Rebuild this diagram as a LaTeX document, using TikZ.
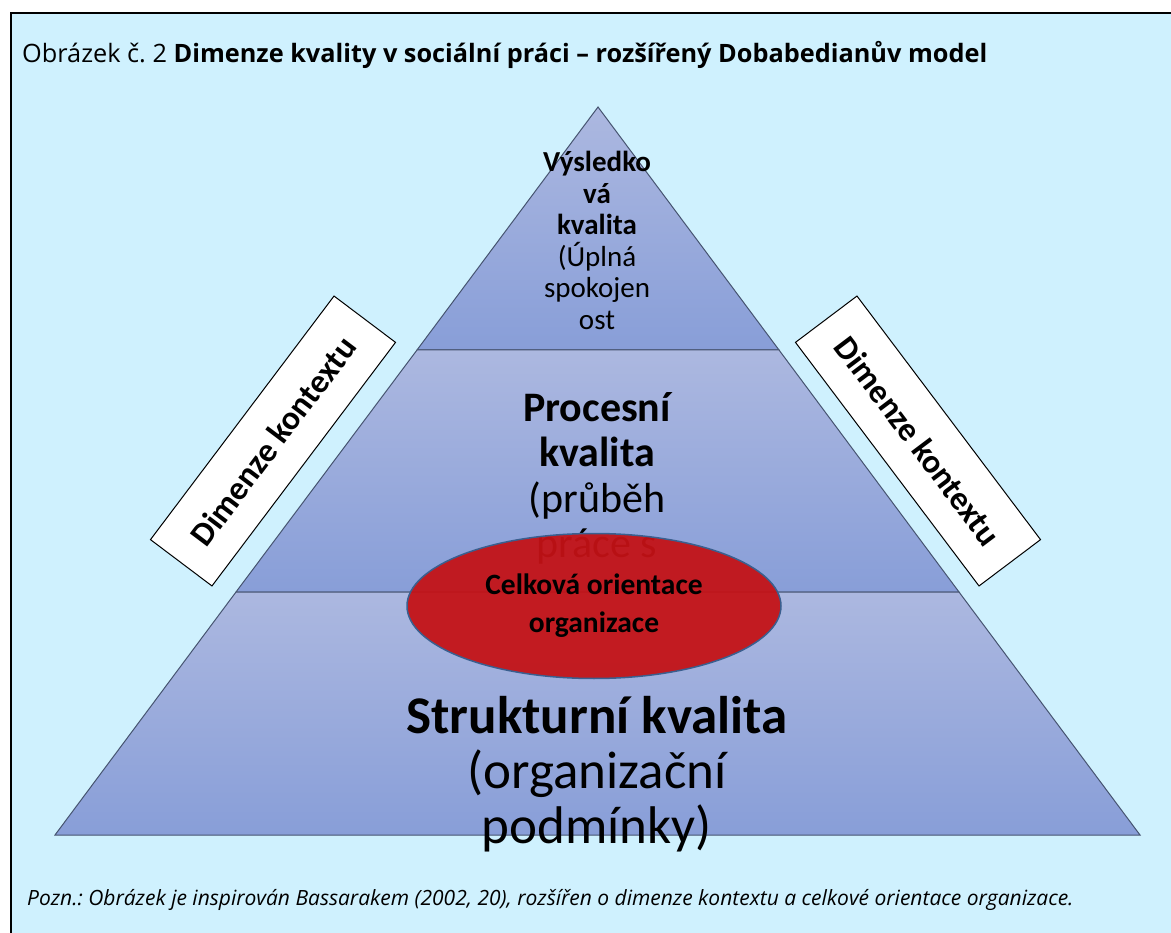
\documentclass[tikz,border=0pt]{standalone}
\usepackage{fontspec}
\setmainfont{Open Sans}
\newfontfamily\calfont{Carlito}
\usetikzlibrary{shapes.geometric}
\definecolor{bg}{RGB}{207,241,254}
\definecolor{tiertop}{RGB}{172,184,224}
\definecolor{tierbot}{RGB}{136,158,216}
\definecolor{tierline}{RGB}{70,84,112}
\definecolor{ellred}{RGB}{196,18,22}
\definecolor{ellline}{RGB}{58,95,143}
\frenchspacing
\begin{document}
\begin{tikzpicture}[x=1pt,y=-1pt,
  tier/.style={draw=tierline, line width=1pt, top color=tiertop, bottom color=tierbot},
  lbl/.style={anchor=base, inner sep=0pt, text=black},
  ctxbox/.style={draw=black, fill=white, line width=1pt, minimum width=305pt, minimum height=77pt, inner sep=0pt, font=\calfont\bfseries\fontsize{33.5}{38}\selectfont},
  ellnode/.style={ellipse, minimum width=374pt, minimum height=145pt, inner sep=0pt, fill=ellred, fill opacity=0.94, draw=ellline, line width=1.5pt}]
\useasboundingbox (0,0) rectangle (1171,933);
\fill[white] (0,0) rectangle (1171,933);
\fill[bg] (11,13) rectangle (1171,933);
\draw[line width=2pt] (11,933) -- (11,13) -- (1171,13);

\node[anchor=base west, inner sep=0pt, font=\fontsize{25.3}{30}\selectfont] (title) at (22,63)
  {Obrázek č. 2 \textbf{Dimenze kvality v sociální práci – rozšířený Dobabedianův model}};

\coordinate (A) at (598,107);
\coordinate (TL) at (417,350);
\coordinate (TR) at (779,350);
\coordinate (ML) at (236,592);
\coordinate (MR) at (959,592);
\coordinate (BL) at (55,835);
\coordinate (BR) at (1140,835);

\path[tier] (A) -- (TR) -- (TL) -- cycle;
\path[tier] (TL) -- (TR) -- (MR) -- (ML) -- cycle;
\path[tier] (ML) -- (MR) -- (BR) -- (BL) -- cycle;

% top tier text
\begin{scope}[every node/.style={lbl, font=\calfont\fontsize{29}{32}\selectfont}]
\node (t1) at (597,172) {\bfseries Výsledko};
\node (t2) at (597,203.5) {\bfseries vá};
\node (t3) at (597,235) {\bfseries kvalita};
\node (t4) at (597,266.5) {(Úplná};
\node (t5) at (597,298) {spokojen};
\node (t6) at (597,329.5) {ost};
\end{scope}

% middle tier text
\begin{scope}[every node/.style={lbl, font=\calfont\fontsize{42}{46}\selectfont}]
\node (m1) at (597,422) {\bfseries Procesní};
\node (m2) at (597,467) {\bfseries kvalita};
\node (m3) at (597,512) {(průběh};
\node (m4) at (597,557) {práce s};
\end{scope}

% bottom tier text
\begin{scope}[every node/.style={lbl, font=\calfont\fontsize{53}{56}\selectfont}]
\node (b1) at (597,733) {\bfseries Strukturní kvalita};
\node (b2) at (597,788) {(organizační};
\node (b3) at (597,843) {podmínky)};
\end{scope}

% ellipse
\node[ellnode] (ell) at (594,606) {};
\begin{scope}[every node/.style={lbl, font=\calfont\bfseries\fontsize{29.5}{32}\selectfont}]
\node (e1) at (594,594) {Celková orientace};
\node (e2) at (594,632) {organizace};
\end{scope}

% context boxes
\node[ctxbox, rotate=53] (ctxL) at (273,441) {Dimenze kontextu};
\node[ctxbox, rotate=-53] (ctxR) at (918,441) {Dimenze kontextu};

% footnote
\node[anchor=base west, inner sep=0pt, font=\itshape\fontsize{21}{25}\selectfont] (note) at (27,905)
  {Pozn.: Obrázek je inspirován Bassarakem (2002, 20), rozšířen o dimenze kontextu a celkové orientace organizace.};
\end{tikzpicture}
\end{document}
